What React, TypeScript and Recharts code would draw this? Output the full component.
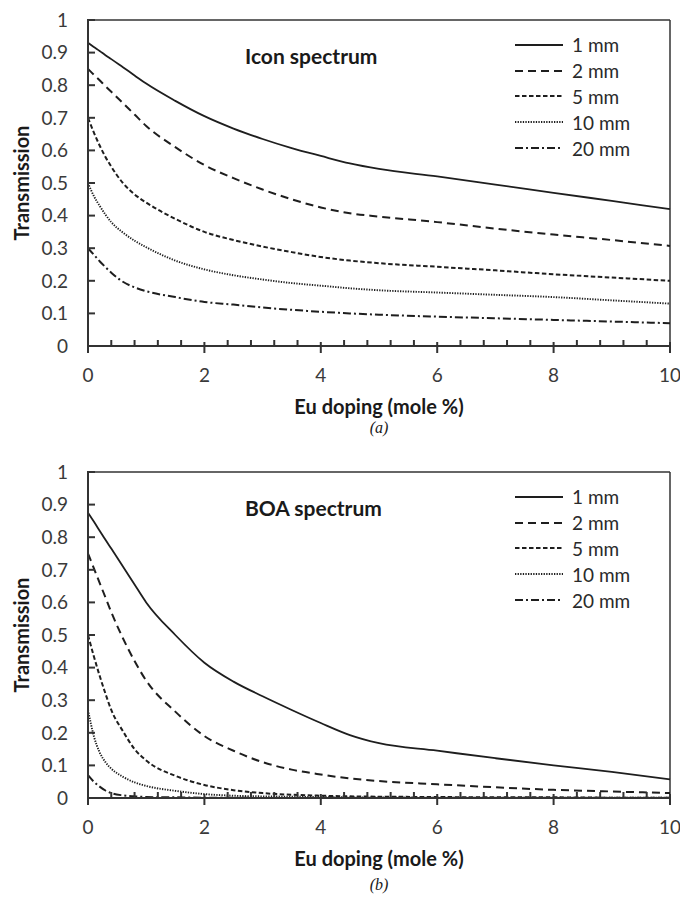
import { LineChart, Line, XAxis, YAxis, Legend, ReferenceLine } from "recharts";

// Eu doping (mole %) sample points
const DOPING = [0, 0.1, 0.2, 0.3, 0.4, 0.6, 0.8, 1, 1.5, 2, 2.5, 3, 3.5, 4, 4.5, 5, 6, 7, 8, 9, 10];

// (a) Icon spectrum
const ICON_1MM = [0.93, 0.917, 0.905, 0.892, 0.88, 0.855, 0.83, 0.805, 0.752, 0.705, 0.667, 0.635, 0.607, 0.583, 0.56, 0.543, 0.52, 0.495, 0.47, 0.445, 0.42];
const ICON_2MM = [0.85, 0.832, 0.815, 0.797, 0.78, 0.745, 0.71, 0.675, 0.61, 0.555, 0.515, 0.48, 0.45, 0.425, 0.407, 0.397, 0.38, 0.36, 0.342, 0.325, 0.307];
const ICON_5MM = [0.7, 0.655, 0.615, 0.58, 0.55, 0.5, 0.465, 0.44, 0.39, 0.35, 0.325, 0.305, 0.288, 0.273, 0.262, 0.254, 0.243, 0.232, 0.22, 0.21, 0.2];
const ICON_10MM = [0.5, 0.46, 0.43, 0.403, 0.38, 0.348, 0.323, 0.303, 0.262, 0.235, 0.217, 0.204, 0.193, 0.185, 0.177, 0.171, 0.164, 0.157, 0.15, 0.14, 0.13];
const ICON_20MM = [0.3, 0.28, 0.26, 0.242, 0.225, 0.197, 0.18, 0.168, 0.15, 0.135, 0.127, 0.118, 0.111, 0.105, 0.1, 0.096, 0.09, 0.085, 0.08, 0.075, 0.07];

// (b) BOA spectrum
const BOA_1MM = [0.875, 0.848, 0.82, 0.792, 0.765, 0.71, 0.655, 0.6, 0.5, 0.415, 0.357, 0.312, 0.27, 0.23, 0.193, 0.168, 0.145, 0.122, 0.1, 0.08, 0.057];
const BOA_2MM = [0.75, 0.705, 0.66, 0.615, 0.57, 0.49, 0.42, 0.36, 0.265, 0.19, 0.145, 0.11, 0.087, 0.072, 0.06, 0.052, 0.042, 0.033, 0.025, 0.02, 0.015];
const BOA_5MM = [0.5, 0.435, 0.375, 0.32, 0.27, 0.205, 0.15, 0.115, 0.068, 0.04, 0.024, 0.015, 0.01, 0.007, 0.005, 0.004, 0.003, 0.002, 0.002, 0.001, 0.001];
const BOA_10MM = [0.27, 0.19, 0.14, 0.11, 0.09, 0.065, 0.048, 0.037, 0.022, 0.012, 0.007, 0.005, 0.004, 0.003, 0.002, 0.002, 0.001, 0.001, 0.001, 0.001, 0.001];
const BOA_20MM = [0.07, 0.05, 0.035, 0.023, 0.015, 0.008, 0.005, 0.003, 0.002, 0.001, 0.001, 0, 0, 0, 0, 0, 0, 0, 0, 0, 0];

const Y_TICKS = [0, 0.1, 0.2, 0.3, 0.4, 0.5, 0.6, 0.7, 0.8, 0.9, 1];
const X_TICKS = [0, 0.4, 0.8, 1.2, 1.6, 2, 2.4, 2.8, 3.2, 3.6, 4, 4.4, 4.8, 5.2, 5.6, 6, 6.4, 6.8, 7.2, 7.6, 8, 8.4, 8.8, 9.2, 9.6, 10];
const X_LABELS = [0, 2, 4, 6, 8, 10];

const SERIES = [
  { key: "t1", name: "1 mm", dash: undefined, width: 1.8 },
  { key: "t2", name: "2 mm", dash: "8 5", width: 2 },
  { key: "t5", name: "5 mm", dash: "4.5 2.5", width: 2 },
  { key: "t10", name: "10 mm", dash: "1.3 1.3", width: 1.9 },
  { key: "t20", name: "20 mm", dash: "8 3 2 3", width: 2 },
];

const FONT = "Lato, 'Open Sans', sans-serif";
const INK = "#1e1e1e";
const AXIS = "#333";

function buildRows(cols: number[][]) {
  return DOPING.map((x, i) => ({
    x,
    t1: cols[0][i],
    t2: cols[1][i],
    t5: cols[2][i],
    t10: cols[3][i],
    t20: cols[4][i],
  }));
}

const iconData = buildRows([ICON_1MM, ICON_2MM, ICON_5MM, ICON_10MM, ICON_20MM]);
const boaData = buildRows([BOA_1MM, BOA_2MM, BOA_5MM, BOA_10MM, BOA_20MM]);

function YTick(props: any) {
  const x = Number(props.x);
  const y = Number(props.y);
  return (
    <g>
      <line x1={x + 19} x2={x + 27} y1={y} y2={y} stroke={AXIS} strokeWidth={2} />
      <text x={x} y={y} dy="0.36em" textAnchor="end" fontSize={19} fill="#3a3a3a" fontFamily={FONT}>
        {props.payload.value}
      </text>
    </g>
  );
}

function XTick(props: any) {
  const x = Number(props.x);
  const y = Number(props.y);
  const major = X_LABELS.includes(props.payload.value);
  return (
    <g>
      {major ? (
        <line x1={x} x2={x} y1={y - 4} y2={y + 7} stroke={AXIS} strokeWidth={2} />
      ) : (
        <line x1={x} x2={x} y1={y - 6} y2={y} stroke={AXIS} strokeWidth={2} />
      )}
      {major && (
        <text x={x} y={y + 36} textAnchor="middle" fontSize={19} fill="#3a3a3a" fontFamily={FONT}>
          {props.payload.value}
        </text>
      )}
    </g>
  );
}

function YTitle(props: any) {
  const vb = props.viewBox;
  const cy = vb.y + vb.height / 2;
  return (
    <text
      x={22}
      y={cy}
      transform={`rotate(-90, 22, ${cy})`}
      textAnchor="middle"
      dy="0.35em"
      fontFamily={FONT}
      fontSize={20}
      fontWeight={700}
      fill="#1a1a1a"
    >
      Transmission
    </text>
  );
}

function LegendBox() {
  return (
    <div style={{ fontFamily: FONT, fontSize: 19, color: "#2a2a2a" }}>
      {SERIES.map((s) => (
        <div key={s.key} style={{ display: "flex", alignItems: "center", height: 25.8 }}>
          <svg width={52} height={10} style={{ marginRight: 5 }}>
            <line x1={0} x2={48} y1={5} y2={5} stroke={INK} strokeWidth={s.width} strokeDasharray={s.dash} />
          </svg>
          <span>{s.name}</span>
        </div>
      ))}
    </div>
  );
}

function Panel({ data, title, tag, top, tagTop }: { data: any[]; title: string; tag: string; top: number; tagTop: number }) {
  return (
    <div style={{ position: "absolute", left: 0, top, width: 680, height: 450 }}>
      <LineChart width={680} height={440} data={data} margin={{ top: 20, right: 10, left: 0, bottom: 64 }}>
        <XAxis
          dataKey="x"
          type="number"
          domain={[0, 10]}
          ticks={X_TICKS}
          interval={0}
          height={30}
          tickSize={0}
          tickMargin={0}
          tickLine={false}
          tick={<XTick />}
          axisLine={{ stroke: AXIS, strokeWidth: 2 }}
          label={{
            value: "Eu doping (mole %)",
            position: "bottom",
            offset: 24,
            style: { fontFamily: FONT, fontSize: 20, fontWeight: 700, fill: "#1a1a1a" },
          }}
        />
        <YAxis
          type="number"
          domain={[0, 1]}
          ticks={Y_TICKS}
          interval={0}
          width={88}
          tickSize={0}
          tickMargin={20}
          tickLine={false}
          tick={<YTick />}
          axisLine={{ stroke: AXIS, strokeWidth: 2 }}
          label={(p: any) => <YTitle {...p} />}
        />
        <ReferenceLine y={1} stroke={AXIS} strokeWidth={1.5} />
        <ReferenceLine x={10} stroke={AXIS} strokeWidth={1.5} />
        <Legend
          layout="vertical"
          align="center"
          verticalAlign="middle"
          content={() => <LegendBox />}
          wrapperStyle={{ left: 515, top: 32, width: 150 }}
        />
        {SERIES.map((s) => (
          <Line
            key={s.key}
            type="monotone"
            dataKey={s.key}
            name={s.name}
            stroke={INK}
            strokeWidth={s.width}
            strokeDasharray={s.dash}
            dot={false}
            activeDot={false}
            isAnimationActive={false}
          />
        ))}
      </LineChart>
      <div
        style={{
          position: "absolute",
          left: 245,
          top: 43,
          fontFamily: FONT,
          fontSize: 21,
          fontWeight: 700,
          color: "#1a1a1a",
        }}
      >
        {title}
      </div>
      <div
        style={{
          position: "absolute",
          left: 0,
          width: 758,
          top: tagTop,
          textAlign: "center",
          fontFamily: "'Liberation Serif', serif",
          fontStyle: "italic",
          fontSize: 16,
          lineHeight: "18px",
          color: "#1a1a1a",
        }}
      >
        {tag}
      </div>
    </div>
  );
}

export default function App() {
  return (
    <div style={{ position: "absolute", left: 0, top: 0, width: 680, height: 899, background: "#fff" }}>
      <Panel data={iconData} title="Icon spectrum" tag="(a)" top={0} tagTop={419} />
      <Panel data={boaData} title="BOA spectrum" tag="(b)" top={452} tagTop={424} />
    </div>
  );
}
